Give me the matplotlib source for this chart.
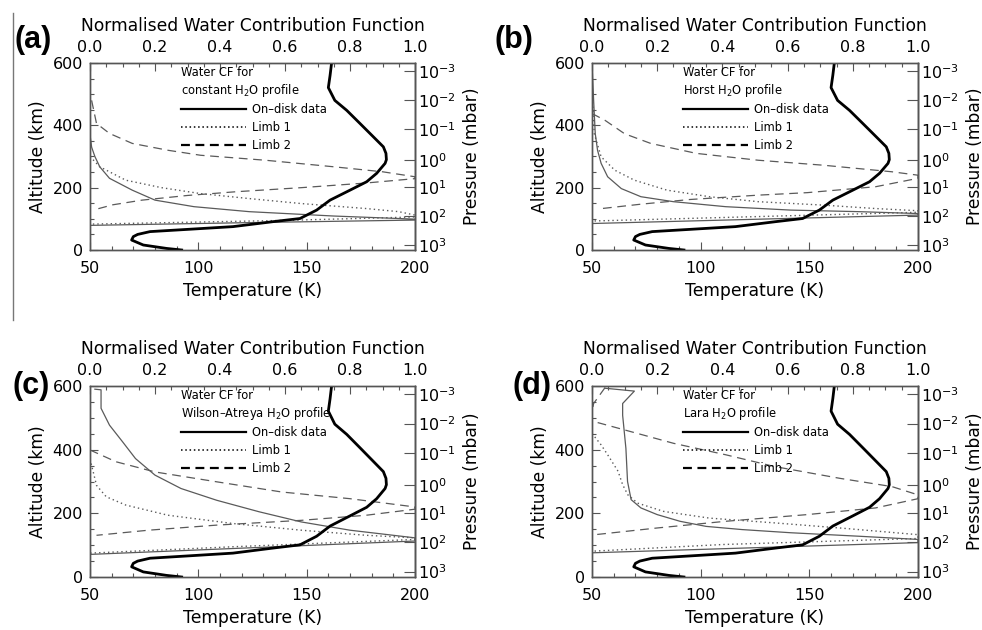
import matplotlib
matplotlib.use('Agg')
import matplotlib.pyplot as plt
from matplotlib.lines import Line2D
from matplotlib.ticker import MultipleLocator, NullLocator, FormatStrFormatter

plt.rcParams['font.family'] = ['DejaVu Sans']
plt.rcParams['mathtext.fontset'] = 'dejavusans'

# ---------------- data ----------------
# Temperature profile (same in all panels)
temp_alt = [600, 560, 521, 480, 448, 406, 363, 331, 310, 290, 278, 246, 219, 192,
            160, 128, 101, 91, 75, 66, 59, 50, 43, 32, 16, 5, 0]
temp_k = [161.5, 160.8, 160.0, 163.0, 168.5, 174.6, 180.8, 185.4, 186.6, 186.8, 186.2,
          182.3, 177.7, 170.0, 160.8, 154.6, 146.9, 134.6, 116.0, 94.6, 77.7, 72.0,
          70.0, 69.2, 74.6, 85.4, 92.3]

pressure_tick_alt = [575, 482, 388, 288, 202, 110, 17]
pressure_tick_labels = [r'$10^{-3}$', r'$10^{-2}$', r'$10^{-1}$', r'$10^{0}$',
                        r'$10^{1}$', r'$10^{2}$', r'$10^{3}$']

panel_letters = ['(a)', '(b)', '(c)', '(d)']
profile_names = ['constant', 'Horst', 'Wilson\u2013Atreya', 'Lara']
legend_labels = ['On\u2013disk data', 'Limb 1', 'Limb 2']

# (a) constant H2O profile
a_disk_alt = [370, 330, 300, 267, 230, 192, 160, 139, 123, 109, 99, 96, 88, 79]
a_disk_cf = [0.0, 0.005, 0.015, 0.03, 0.06, 0.13, 0.2, 0.32, 0.49, 0.75, 1.0, 1.0, 0.5, 0.0]
a_limb1_alt = [300, 267, 224, 200, 181, 165, 149, 133, 123, 112, 106, 95, 83]
a_limb1_cf = [0.0, 0.03, 0.11, 0.22, 0.34, 0.49, 0.65, 0.85, 0.95, 1.0, 1.0, 0.6, 0.0]
a_limb2_alt = [480, 406, 374, 342, 320, 304, 288, 267, 251, 235, 229, 215, 200, 187,
               175, 160, 145, 131]
a_limb2_cf = [0.005, 0.02, 0.06, 0.13, 0.24, 0.34, 0.54, 0.75, 0.9, 1.0, 1.0, 0.85, 0.65,
              0.45, 0.3, 0.16, 0.07, 0.02]

# (b) Horst H2O profile
b_disk_alt = [600, 480, 373, 320, 278, 235, 197, 171, 155, 139, 128, 123, 117, 112, 85]
b_disk_cf = [0.0, 0.005, 0.01, 0.017, 0.028, 0.048, 0.09, 0.15, 0.25, 0.41, 0.61, 0.82,
             1.0, 1.0, 0.0]
b_limb1_alt = [560, 480, 373, 299, 256, 224, 192, 171, 155, 144, 133, 126, 121, 93]
b_limb1_cf = [0.0, 0.002, 0.007, 0.028, 0.07, 0.13, 0.23, 0.36, 0.51, 0.71, 0.87, 1.0,
              1.0, 0.0]
b_limb2_alt = [438, 416, 373, 342, 310, 288, 272, 251, 240, 230, 203, 184, 176, 162,
               147, 133]
b_limb2_cf = [0.0, 0.04, 0.1, 0.18, 0.32, 0.51, 0.71, 0.92, 1.0, 1.0, 0.87, 0.66, 0.51,
              0.3, 0.15, 0.03]

# (c) Wilson-Atreya H2O profile
c_disk_alt = [590, 588, 530, 477, 425, 372, 320, 278, 241, 205, 173, 147, 123, 113, 71, 0]
c_disk_cf = [0.015, 0.034, 0.034, 0.06, 0.1, 0.14, 0.2, 0.28, 0.39, 0.52, 0.65, 0.8, 1.0,
             1.0, 0.0, 0.0]
c_limb1_alt = [370, 330, 288, 252, 226, 194, 168, 147, 131, 123, 118, 95, 75]
c_limb1_cf = [0.0, 0.01, 0.02, 0.05, 0.11, 0.24, 0.44, 0.65, 0.85, 1.0, 1.0, 0.44, 0.0]
c_limb2_alt = [399, 362, 330, 299, 267, 246, 220, 213, 194, 178, 163, 147, 131]
c_limb2_cf = [0.0, 0.08, 0.2, 0.39, 0.59, 0.8, 1.0, 1.0, 0.85, 0.65, 0.39, 0.18, 0.02]

# (d) Lara H2O profile
d_disk_alt = [593, 584, 545, 508, 404, 300, 243, 217, 196, 175, 159, 149, 139, 128, 118,
              108, 76]
d_disk_cf = [0.04, 0.13, 0.094, 0.094, 0.104, 0.109, 0.12, 0.15, 0.2, 0.27, 0.35, 0.46,
             0.61, 0.82, 1.0, 1.0, 0.0]
d_limb1_alt = [451, 415, 384, 332, 290, 258, 232, 206, 185, 170, 154, 133, 121, 102, 81]
d_limb1_cf = [0.0, 0.028, 0.048, 0.08, 0.094, 0.11, 0.14, 0.22, 0.36, 0.56, 0.76, 1.0,
              1.0, 0.4, 0.0]
d_limb2_alt = [595, 545, 520, 490, 462, 420, 384, 347, 310, 284, 258, 246, 217, 196, 175,
               154, 133]
d_limb2_cf = [0.04, 0.005, 0.0, 0.0, 0.1, 0.25, 0.41, 0.56, 0.76, 0.92, 1.0, 1.0, 0.87,
              0.66, 0.41, 0.2, 0.01]

disk_series = [(a_disk_cf, a_disk_alt), (b_disk_cf, b_disk_alt),
               (c_disk_cf, c_disk_alt), (d_disk_cf, d_disk_alt)]
limb1_series = [(a_limb1_cf, a_limb1_alt), (b_limb1_cf, b_limb1_alt),
                (c_limb1_cf, c_limb1_alt), (d_limb1_cf, d_limb1_alt)]
limb2_series = [(a_limb2_cf, a_limb2_alt), (b_limb2_cf, b_limb2_alt),
                (c_limb2_cf, c_limb2_alt), (d_limb2_cf, d_limb2_alt)]

# ---------------- layout ----------------
W, H = 982, 630
fig = plt.figure(figsize=(W / 100, H / 100), dpi=100)

rects_px = [(90, 63, 415, 250), (592, 63, 918, 250),
            (90, 386, 415, 577), (592, 386, 918, 577)]
letter_pos_px = [(15, 40), (495, 40), (12, 386), (513, 386)]

FRAME = '#555555'
CURVE = '#5a5a5a'
TICK_FS = 11.5
LABEL_FS = 12.3

for i in range(4):
    x0, y0, x1, y1 = rects_px[i]
    ax = fig.add_axes([x0 / W, 1 - y1 / H, (x1 - x0) / W, (y1 - y0) / H])
    axT = ax.twiny()

    # CF curves on top axis
    cf, alt = disk_series[i]
    axT.plot(cf, alt, color=CURVE, lw=0.9, solid_joinstyle='round')
    cf, alt = limb1_series[i]
    axT.plot(cf, alt, color=CURVE, lw=1.0, linestyle=(0, (1, 2.2)))
    cf, alt = limb2_series[i]
    axT.plot(cf, alt, color=CURVE, lw=0.9, linestyle=(0, (7, 4.5)))
    axT.set_xlim(0, 1)

    # temperature profile on bottom axis (drawn above)
    ax.plot(temp_k, temp_alt, color='black', lw=2.0, solid_joinstyle='round')
    ax.set_xlim(50, 200)
    ax.set_ylim(0, 600)
    ax.set_zorder(axT.get_zorder() + 1)
    ax.patch.set_visible(False)

    # ticks
    ax.xaxis.set_major_locator(MultipleLocator(50))
    ax.xaxis.set_minor_locator(MultipleLocator(10))
    ax.yaxis.set_major_locator(MultipleLocator(200))
    ax.yaxis.set_minor_locator(MultipleLocator(50))
    ax.tick_params(axis='both', which='major', direction='in', length=6, width=0.8,
                   color=FRAME, labelsize=TICK_FS, top=False, right=False)
    ax.tick_params(axis='both', which='minor', direction='in', length=3, width=0.8,
                   color=FRAME, top=False, right=False)
    ax.tick_params(axis='x', pad=8)
    ax.tick_params(axis='y', pad=5)

    axT.xaxis.set_major_locator(MultipleLocator(0.2))
    axT.xaxis.set_minor_locator(MultipleLocator(0.05))
    axT.xaxis.set_major_formatter(FormatStrFormatter('%.1f'))
    axT.tick_params(axis='x', which='major', direction='in', length=6, width=0.8,
                    color=FRAME, labelsize=TICK_FS, pad=6)
    axT.tick_params(axis='x', which='minor', direction='in', length=3, width=0.8,
                    color=FRAME)
    axT.tick_params(axis='y', which='both', left=False, right=False,
                    labelleft=False, labelright=False)

    # right pressure axis
    axR = ax.secondary_yaxis('right')
    axR.set_yticks(pressure_tick_alt)
    axR.set_yticklabels(pressure_tick_labels)
    axR.yaxis.set_minor_locator(NullLocator())
    axR.tick_params(axis='y', which='major', direction='in', length=8, width=0.8,
                    color=FRAME, labelsize=TICK_FS, pad=2)
    axR.set_ylabel('Pressure (mbar)', fontsize=LABEL_FS, labelpad=5)

    for a in (ax, axT, axR):
        for s in a.spines.values():
            s.set_color(FRAME)
            s.set_linewidth(1.0)

    ax.set_xlabel('Temperature (K)', fontsize=LABEL_FS, labelpad=4)
    ax.set_ylabel('Altitude (km)', fontsize=LABEL_FS, labelpad=4)
    axT.set_xlabel('Normalised Water Contribution Function', fontsize=LABEL_FS,
                   labelpad=6)

    # legend
    handles = [Line2D([], [], color='black', lw=1.6),
               Line2D([], [], color='black', lw=1.1, linestyle=(0, (1, 1.8))),
               Line2D([], [], color='black', lw=1.6, linestyle=(0, (4, 2.5)))]
    leg = ax.legend(handles, legend_labels,
                    title='Water CF for\n' + profile_names[i] + ' H$_2$O profile',
                    loc='upper left', bbox_to_anchor=(0.27, 1.0), frameon=False,
                    fontsize=8.3, title_fontsize=8.3, handlelength=5.6,
                    handletextpad=0.5, labelspacing=0.4, borderaxespad=0.2,
                    borderpad=0.1, alignment='left')
    leg.set_zorder(5)

    lx, ly = letter_pos_px[i]
    fig.text(lx / W, 1 - ly / H, panel_letters[i], fontsize=22, fontweight='bold',
             family='Liberation Sans', ha='left', va='center')

fig.add_artist(Line2D([13 / W, 13 / W], [1 - 13 / H, 1 - 320 / H],
                      color='#777777', lw=1.0, transform=fig.transFigure))

fig.savefig('out.png', dpi=100)
